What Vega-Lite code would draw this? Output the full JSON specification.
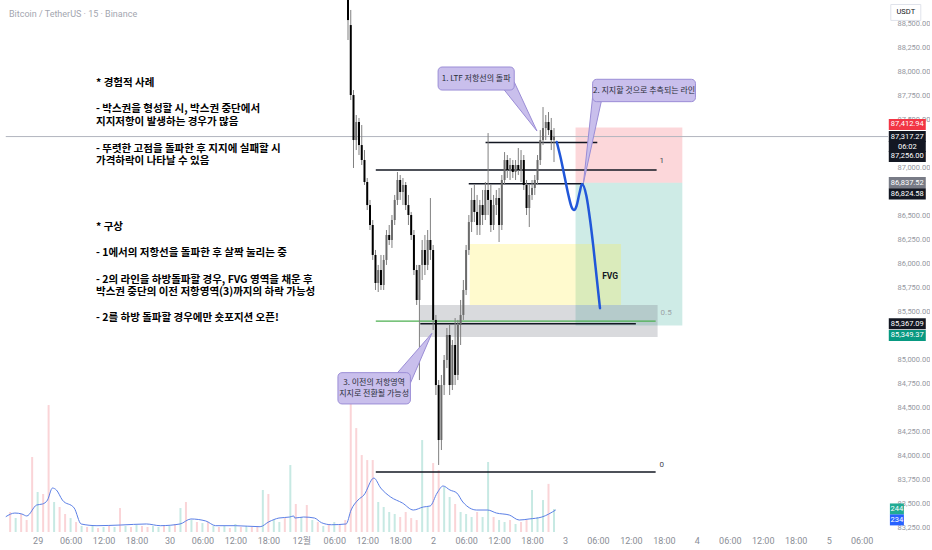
{
 "$schema": "https://vega.github.io/schema/vega-lite/v6.json",
 "width": 893,
 "height": 532,
 "padding": 0,
 "autosize": {"type": "pad"},
 "background": "#ffffff",
 "config": {"view": {"stroke": null}, "font": "Roboto, 'Noto Sans CJK KR'"},
 "datasets": {
  "candles": [
   {"t":56.5,"o":89573,"h":89782,"l":88323,"c":88531},
   {"t":57,"o":88479,"h":88636,"l":87698,"c":87750},
   {"t":57.5,"o":87750,"h":87802,"l":86990,"c":87281},
   {"t":58,"o":87281,"h":87542,"l":87177,"c":87469},
   {"t":58.5,"o":87469,"h":87511,"l":87125,"c":87229},
   {"t":59,"o":87229,"h":87438,"l":87021,"c":87073},
   {"t":59.5,"o":87073,"h":87177,"l":86813,"c":86844},
   {"t":60,"o":86844,"h":86886,"l":86552,"c":86604},
   {"t":60.5,"o":86604,"h":86657,"l":86344,"c":86396},
   {"t":61,"o":86396,"h":86448,"l":86032,"c":86084},
   {"t":61.5,"o":86084,"h":86136,"l":85719,"c":85792},
   {"t":62,"o":85792,"h":85980,"l":85698,"c":85927},
   {"t":62.5,"o":85927,"h":86084,"l":85719,"c":85771},
   {"t":63,"o":85771,"h":86084,"l":85719,"c":86032},
   {"t":63.5,"o":86032,"h":86344,"l":85980,"c":86292},
   {"t":64,"o":86292,"h":86396,"l":86188,"c":86240},
   {"t":64.5,"o":86240,"h":86500,"l":86157,"c":86448},
   {"t":65,"o":86448,"h":86709,"l":86396,"c":86657},
   {"t":65.5,"o":86657,"h":86948,"l":86604,"c":86865},
   {"t":66,"o":86865,"h":86917,"l":86657,"c":86740},
   {"t":66.5,"o":86740,"h":86886,"l":86604,"c":86813},
   {"t":67,"o":86813,"h":86844,"l":86552,"c":86604},
   {"t":67.5,"o":86604,"h":86709,"l":86396,"c":86500},
   {"t":68,"o":86500,"h":86532,"l":86240,"c":86292},
   {"t":68.5,"o":86292,"h":86344,"l":85875,"c":85927},
   {"t":69,"o":85927,"h":85980,"l":85563,"c":85615},
   {"t":69.5,"o":85615,"h":85667,"l":84781,"c":85980},
   {"t":70,"o":85980,"h":86240,"l":85823,"c":86136},
   {"t":70.5,"o":86136,"h":86292,"l":85875,"c":85980},
   {"t":71,"o":85980,"h":86344,"l":85927,"c":86240},
   {"t":71.5,"o":86240,"h":86677,"l":86032,"c":86136},
   {"t":72,"o":86136,"h":86188,"l":85302,"c":85407},
   {"t":72.5,"o":85407,"h":85459,"l":84625,"c":84729},
   {"t":73,"o":84729,"h":84781,"l":83896,"c":84156},
   {"t":73.5,"o":84156,"h":84834,"l":84052,"c":84729},
   {"t":74,"o":84729,"h":85042,"l":84625,"c":84990},
   {"t":74.5,"o":84990,"h":85323,"l":84906,"c":85250},
   {"t":75,"o":85250,"h":85355,"l":84625,"c":84729},
   {"t":75.5,"o":84729,"h":85198,"l":84677,"c":85146},
   {"t":76,"o":85146,"h":85427,"l":84729,"c":84834},
   {"t":76.5,"o":84834,"h":85407,"l":84781,"c":85355},
   {"t":77,"o":85355,"h":85615,"l":85146,"c":85459},
   {"t":77.5,"o":85459,"h":85823,"l":85407,"c":85719},
   {"t":78,"o":85719,"h":86188,"l":85667,"c":86136},
   {"t":78.5,"o":86136,"h":86500,"l":86084,"c":86427},
   {"t":79,"o":86427,"h":86782,"l":86323,"c":86657},
   {"t":79.5,"o":86657,"h":86813,"l":86427,"c":86532},
   {"t":80,"o":86532,"h":86709,"l":86292,"c":86396},
   {"t":80.5,"o":86396,"h":86657,"l":86292,"c":86604},
   {"t":81,"o":86604,"h":86761,"l":86396,"c":86500},
   {"t":81.5,"o":86500,"h":86844,"l":86448,"c":86761},
   {"t":82,"o":86761,"h":87354,"l":86500,"c":86657},
   {"t":82.5,"o":86657,"h":86813,"l":86323,"c":86396},
   {"t":83,"o":86396,"h":86709,"l":86344,"c":86604},
   {"t":83.5,"o":86604,"h":86761,"l":86500,"c":86677},
   {"t":84,"o":86677,"h":86782,"l":86219,"c":86396},
   {"t":84.5,"o":86396,"h":86917,"l":86344,"c":86865},
   {"t":85,"o":86865,"h":87156,"l":86813,"c":87073},
   {"t":85.5,"o":87073,"h":87125,"l":86886,"c":86969},
   {"t":86,"o":86969,"h":87094,"l":86865,"c":87021},
   {"t":86.5,"o":87021,"h":87073,"l":86886,"c":86948},
   {"t":87,"o":86948,"h":87073,"l":86865,"c":87021},
   {"t":87.5,"o":87021,"h":87198,"l":86917,"c":86969},
   {"t":88,"o":86969,"h":87177,"l":86844,"c":87073},
   {"t":88.5,"o":87073,"h":87125,"l":86761,"c":86813},
   {"t":89,"o":86813,"h":86865,"l":86500,"c":86573},
   {"t":89.5,"o":86573,"h":86813,"l":86375,"c":86709},
   {"t":90,"o":86709,"h":86865,"l":86657,"c":86782},
   {"t":90.5,"o":86782,"h":86917,"l":86709,"c":86865},
   {"t":91,"o":86865,"h":87125,"l":86813,"c":87073},
   {"t":91.5,"o":87073,"h":87385,"l":87021,"c":87281},
   {"t":92,"o":87281,"h":87625,"l":87229,"c":87406},
   {"t":92.5,"o":87406,"h":87542,"l":87281,"c":87469},
   {"t":93,"o":87469,"h":87573,"l":87333,"c":87385},
   {"t":93.5,"o":87385,"h":87511,"l":87177,"c":87281},
   {"t":94,"o":87281,"h":87406,"l":87052,"c":87317.27}
  ],
  "vol": [
   {"t":-5,"v":212,"d":"down"},{"t":-4,"v":148,"d":"up"},{"t":-3,"v":191,"d":"down"},{"t":-2,"v":127,"d":"down"},{"t":-1,"v":795,"d":"down"},
   {"t":0,"v":424,"d":"up"},{"t":1,"v":403,"d":"down"},{"t":2,"v":1346,"d":"down"},{"t":3,"v":318,"d":"up"},{"t":4,"v":265,"d":"down"},
   {"t":5,"v":191,"d":"down"},{"t":6,"v":148,"d":"up"},{"t":7,"v":106,"d":"down"},{"t":8,"v":64,"d":"up"},{"t":9,"v":53,"d":"down"},
   {"t":10,"v":64,"d":"up"},{"t":11,"v":42,"d":"down"},{"t":12,"v":53,"d":"up"},{"t":13,"v":64,"d":"down"},{"t":14,"v":53,"d":"up"},
   {"t":15,"v":254,"d":"down"},{"t":16,"v":64,"d":"up"},{"t":17,"v":53,"d":"down"},{"t":18,"v":74,"d":"up"},{"t":19,"v":64,"d":"down"},
   {"t":20,"v":53,"d":"down"},{"t":21,"v":64,"d":"up"},{"t":22,"v":53,"d":"up"},{"t":23,"v":74,"d":"down"},{"t":24,"v":64,"d":"up"},
   {"t":25,"v":85,"d":"down"},{"t":26,"v":254,"d":"up"},{"t":27,"v":318,"d":"down"},{"t":28,"v":127,"d":"up"},{"t":29,"v":106,"d":"down"},
   {"t":30,"v":95,"d":"up"},{"t":31,"v":106,"d":"down"},{"t":32,"v":64,"d":"up"},{"t":33,"v":53,"d":"down"},{"t":34,"v":64,"d":"up"},
   {"t":35,"v":42,"d":"down"},{"t":36,"v":85,"d":"up"},{"t":37,"v":53,"d":"down"},{"t":38,"v":64,"d":"up"},{"t":39,"v":53,"d":"down"},
   {"t":40,"v":64,"d":"down"},{"t":41,"v":445,"d":"up"},{"t":42,"v":403,"d":"down"},{"t":43,"v":127,"d":"up"},{"t":44,"v":106,"d":"up"},
   {"t":45,"v":148,"d":"down"},{"t":46,"v":710,"d":"up"},{"t":47,"v":297,"d":"down"},{"t":48,"v":159,"d":"up"},{"t":49,"v":286,"d":"down"},
   {"t":50,"v":127,"d":"up"},{"t":51,"v":106,"d":"down"},{"t":52,"v":64,"d":"up"},{"t":53,"v":85,"d":"down"},{"t":54,"v":106,"d":"up"},
   {"t":55,"v":85,"d":"down"},{"t":56,"v":127,"d":"down"},{"t":57,"v":1420,"d":"down"},{"t":58,"v":1102,"d":"down"},{"t":59,"v":816,"d":"down"},
   {"t":60,"v":763,"d":"down"},{"t":61,"v":763,"d":"down"},{"t":62,"v":318,"d":"up"},{"t":63,"v":265,"d":"up"},{"t":64,"v":212,"d":"up"},
   {"t":65,"v":191,"d":"up"},{"t":66,"v":159,"d":"down"},{"t":67,"v":212,"d":"down"},{"t":68,"v":148,"d":"down"},{"t":69,"v":127,"d":"down"},
   {"t":70,"v":975,"d":"up"},{"t":71,"v":265,"d":"up"},{"t":72,"v":731,"d":"down"},{"t":73,"v":657,"d":"down"},{"t":74,"v":477,"d":"up"},
   {"t":75,"v":371,"d":"up"},{"t":76,"v":297,"d":"down"},{"t":77,"v":212,"d":"up"},{"t":78,"v":191,"d":"up"},{"t":79,"v":159,"d":"up"},
   {"t":80,"v":212,"d":"down"},{"t":81,"v":159,"d":"up"},{"t":82,"v":742,"d":"up"},{"t":83,"v":159,"d":"down"},{"t":84,"v":127,"d":"up"},
   {"t":85,"v":106,"d":"up"},{"t":86,"v":127,"d":"down"},{"t":87,"v":85,"d":"up"},{"t":88,"v":106,"d":"down"},{"t":89,"v":127,"d":"down"},
   {"t":90,"v":445,"d":"up"},{"t":91,"v":159,"d":"up"},{"t":92,"v":339,"d":"up"},{"t":93,"v":510,"d":"down"},{"t":94,"v":244,"d":"up"}
  ],
  "volma": [
   {"t":-5.8,"v":162},{"t":-4.14,"v":201},{"t":-2.88,"v":191},{"t":-1.98,"v":170},{"t":-0.18,"v":286},{"t":0.9,"v":297},
   {"t":1.8,"v":339},{"t":2.7,"v":466},{"t":3.42,"v":445},{"t":4.5,"v":339},{"t":6.66,"v":254},{"t":7.92,"v":85},
   {"t":10.8,"v":67},{"t":15.12,"v":74},{"t":19.8,"v":85},{"t":22.32,"v":67},{"t":25.92,"v":85},{"t":27.9,"v":138},
   {"t":30.6,"v":117},{"t":32.4,"v":67},{"t":36,"v":67},{"t":40.5,"v":56},{"t":42.12,"v":109},{"t":43.92,"v":148},
   {"t":45.9,"v":159},{"t":46.62,"v":170},{"t":46.8,"v":148},{"t":48.42,"v":159},{"t":50.4,"v":148},{"t":51.66,"v":99},
   {"t":53.46,"v":77},{"t":56.16,"v":85},{"t":57.06,"v":233},{"t":58.32,"v":339},{"t":59.4,"v":392},{"t":61.2,"v":572},
   {"t":62.46,"v":466},{"t":64.26,"v":371},{"t":66.42,"v":307},{"t":68.4,"v":233},{"t":70.2,"v":265},{"t":71.46,"v":276},
   {"t":72.72,"v":413},{"t":73.8,"v":488},{"t":75.06,"v":445},{"t":76.32,"v":413},{"t":77.4,"v":318},{"t":79.92,"v":233},
   {"t":81.9,"v":233},{"t":83.52,"v":201},{"t":85.86,"v":180},{"t":87.66,"v":127},{"t":89.46,"v":138},{"t":91.8,"v":159},
   {"t":94.32,"v":234}
  ],
  "voltags": [
   {"t":156.42,"v":244,"label":"244"},
   {"t":156.42,"v":234,"label":"234"}
  ],
  "zones": [
   {"kind":"stop","t":97.92,"t2":117.36,"p":86837.52,"p2":87412.94},
   {"kind":"target","t":97.92,"t2":117.36,"p":85349.37,"p2":86837.52},
   {"kind":"fvg","t":78.66,"t2":106.2,"p":85563,"p2":86198},
   {"kind":"zone","t":69.48,"t2":112.86,"p":85230,"p2":85563}
  ],
  "lines": [
   {"kind":"last","t":-5.8,"t2":154.8,"p":87317.27},
   {"kind":"black","t":81.54,"t2":101.88,"p":87256},
   {"kind":"black","t":61.56,"t2":112.68,"p":86969},
   {"kind":"black","t":78.48,"t2":99.36,"p":86824.58},
   {"kind":"black","t":69.66,"t2":108.9,"p":85367.09},
   {"kind":"black","t":61.56,"t2":112.5,"p":83823},
   {"kind":"green","t":61.56,"t2":112.5,"p":85396}
  ],
  "proj": [
   {"t":94.5,"p":87261},{"t":95.22,"p":87094},{"t":95.94,"p":86896},{"t":96.66,"p":86698},{"t":97.2,"p":86584},
   {"t":97.65,"p":86552},{"t":98.1,"p":86594},{"t":98.64,"p":86729},{"t":99.09,"p":86823},{"t":99.9,"p":86698},
   {"t":100.57,"p":86448},{"t":101.16,"p":86170},{"t":101.75,"p":85858},{"t":102.37,"p":85529}
  ],
  "boxes": [
   {"t":72.9,"t2":86.76,"p":87802,"p2":88042},
   {"t":101.03,"t2":119.75,"p":87681,"p2":87914},
   {"t":54.67,"t2":67.86,"p":84532,"p2":84858}
  ],
  "pointers": [
   {"id":1,"ord":1,"t":84.96,"p":87802},{"id":1,"ord":2,"t":90.9,"p":87375},{"id":1,"ord":3,"t":86.76,"p":87886},
   {"id":2,"ord":1,"t":101.03,"p":87730},{"id":2,"ord":2,"t":99.36,"p":86834},{"id":2,"ord":3,"t":102.6,"p":87681},
   {"id":3,"ord":1,"t":65.52,"p":84858},{"id":3,"ord":2,"t":71.77,"p":85268},{"id":3,"ord":3,"t":67.86,"p":84750}
  ],
  "calltext": [
   {"t":79.83,"p":87917,"label":"1. LTF 저항선의 돌파"},
   {"t":110.39,"p":87797,"label":"2. 지지할 것으로 추측되는 라인"},
   {"t":61.25,"p":84750,"label":"3. 이전의 저항영역"},
   {"t":61.25,"p":84636,"label":"지지로 전환될 가능성"}
  ],
  "notes": [
   {"t":10.62,"p":87879,"label":"* 경험적 사례"},
   {"t":10.62,"p":87606,"label":"- 박스권을 형성할 시, 박스권 중단에서"},
   {"t":10.62,"p":87472,"label":"지지저항이 발생하는 경우가 많음"},
   {"t":10.62,"p":87190,"label":"- 뚜렷한 고점을 돌파한 후 지지에 실패할 시"},
   {"t":10.62,"p":87061,"label":"가격하락이 나타날 수 있음"},
   {"t":10.62,"p":86372,"label":"* 구상"},
   {"t":10.62,"p":86108,"label":"- 1에서의 저항선을 돌파한 후 살짝 눌리는 중"},
   {"t":10.62,"p":85822,"label":"- 2의 라인을 하방돌파할 경우, FVG 영역을 채운 후"},
   {"t":10.62,"p":85695,"label":"박스권 중단의 이전 저항영역(3)까지의 하락 가능성"},
   {"t":10.62,"p":85424,"label":"- 2를 하방 돌파할 경우에만 숏포지션 오픈!"}
  ],
  "fibs": [
   {"t":113.2,"p":87063,"label":"1","kind":"fib"},
   {"t":113.2,"p":83896,"label":"0","kind":"fib"},
   {"t":113.4,"p":85480,"label":"0.5","kind":"mid"}
  ],
  "fvgtext": [{"t":104.22,"p":85865,"label":"FVG"}],
  "header": [{"t":-5.22,"p":88594,"label":"Bitcoin / TetherUS · 15 · Binance"}],
  "unit": [{"t":158.04,"p":88610,"label":"USDT"}],
  "tags": [
   {"label":"87,412.94","t":158.31,"p":87412.94,"kind":"stop"},
   {"label":"87,317.27","t":158.31,"p":87317.27,"kind":"last"},
   {"label":"06:02","t":158.31,"p":87317.27,"kind":"last"},
   {"label":"87,256.00","t":158.31,"p":87256,"kind":"line"},
   {"label":"86,837.52","t":158.31,"p":86837.52,"kind":"entry"},
   {"label":"86,824.58","t":158.31,"p":86824.58,"kind":"line"},
   {"label":"85,367.09","t":158.31,"p":85367.09,"kind":"line"},
   {"label":"85,349.37","t":158.31,"p":85349.37,"kind":"target"}
  ]
 },
 "encoding": {
  "x": {
   "field": "t", "type": "quantitative",
   "scale": {"domain": [-5.94, 154.8], "nice": false, "zero": false},
   "axis": {
    "values": [0,6,12,18,24,30,36,42,48,54,60,66,72,78,84,90,96,102,108,114,120,126,132,138,144,150],
    "labelExpr": "datum.value % 24 == 0 ? (datum.value == 0 ? '29' : datum.value == 24 ? '30' : datum.value == 48 ? '12월' : format(datum.value / 24 - 1, 'd')) : format(datum.value % 24, '02d') + ':00'",
    "grid": false, "ticks": false, "domain": false, "title": null,
    "labelColor": "#8a8d96", "labelFontSize": 9, "labelPadding": 4,
    "labelFlush": false, "labelOverlap": false
   }
  }
 },
 "resolve": {"scale": {"y": "independent", "color": "independent", "size": "independent"}},
 "layer": [
  {
   "encoding": {"y": {"field": "v", "type": "quantitative", "stack": null, "scale": {"domain": [0, 5640], "nice": false, "zero": false}, "axis": null}},
   "resolve": {"scale": {"color": "independent"}},
   "layer": [
    {"data": {"name": "vol"}, "mark": {"type": "bar", "orient": "vertical", "width": 2, "opacity": 0.38},
     "encoding": {"color": {"field": "d", "type": "nominal", "scale": {"domain": ["down", "up"], "range": ["#f28d96", "#6cc5b6"]}, "legend": null}}},
    {"data": {"name": "volma"}, "mark": {"type": "line", "color": "#5b7fe6", "strokeWidth": 1, "interpolate": "monotone"}},
    {"data": {"name": "voltags"}, "transform": [{"filter": {"field": "label", "equal": "244"}}],
     "layer": [
      {"mark": {"type": "point", "shape": "M-1,-0.79H1V0.79H-1Z", "filled": true, "opacity": 1, "size": 196, "strokeWidth": 0, "color": "#22ab94"}},
      {"mark": {"type": "text", "color": "#ffffff", "fontSize": 7.5, "align": "center", "baseline": "middle"}, "encoding": {"text": {"field": "label"}}}
     ]},
    {"data": {"name": "voltags"}, "transform": [{"filter": {"field": "label", "equal": "234"}}],
     "layer": [
      {"mark": {"type": "point", "shape": "M-1,0.64H1V2.21H-1Z", "filled": true, "opacity": 1, "size": 196, "strokeWidth": 0, "color": "#2962ff"}},
      {"mark": {"type": "text", "color": "#ffffff", "fontSize": 7.5, "align": "center", "baseline": "middle", "dy": 10}, "encoding": {"text": {"field": "label"}}}
     ]}
   ]
  },
  {
   "encoding": {"y": {"field": "p", "type": "quantitative", "scale": {"domain": [83198, 88740], "nice": false, "zero": false},
     "axis": {"orient": "right", "values": [83250,83500,83750,84000,84250,84500,84750,85000,85500,85750,86000,86250,86500,87000,87500,87750,88000,88250,88500],
      "format": ",.2f", "labelAlign": "left", "labelPadding": 4, "ticks": false, "domain": false, "grid": false, "title": null,
      "labelColor": "#9598a1", "labelFontSize": 7.5, "labelOverlap": false, "labelFlush": false}}},
   "resolve": {"scale": {"color": "independent", "size": "independent"}},
   "layer": [
    {"data": {"name": "zones"}, "mark": {"type": "rect"},
     "encoding": {"x2": {"field": "t2"}, "y2": {"field": "p2"},
      "color": {"field": "kind", "type": "nominal", "scale": {"domain": ["stop", "target", "fvg", "zone"], "range": ["rgba(242,54,69,0.2)", "rgba(8,153,129,0.2)", "rgba(255,235,59,0.25)", "rgba(120,123,134,0.28)"]}, "legend": null}}},
    {"data": {"name": "lines"}, "mark": {"type": "rule"},
     "encoding": {"x2": {"field": "t2"},
      "color": {"field": "kind", "type": "nominal", "scale": {"domain": ["black", "green", "last"], "range": ["#131722", "#4caf50", "#b2b5be"]}, "legend": null},
      "size": {"field": "kind", "type": "nominal", "scale": {"domain": ["black", "green", "last"], "range": [1.5, 1, 1]}, "legend": null}}},
    {"data": {"name": "candles"}, "mark": {"type": "rule", "color": "#808080", "strokeWidth": 1, "clip": true},
     "encoding": {"y": {"field": "l", "type": "quantitative", "scale": {"domain": [83198, 88740], "nice": false, "zero": false},
       "axis": {"orient": "right", "values": [83250,83500,83750,84000,84250,84500,84750,85000,85500,85750,86000,86250,86500,87000,87500,87750,88000,88250,88500],
        "format": ",.2f", "labelAlign": "left", "labelPadding": 4, "ticks": false, "domain": false, "grid": false, "title": null,
        "labelColor": "#9598a1", "labelFontSize": 7.5, "labelOverlap": false, "labelFlush": false}}, "y2": {"field": "h"}}},
    {"data": {"name": "candles"}, "mark": {"type": "bar", "orient": "vertical", "width": 2, "clip": true},
     "encoding": {"y": {"field": "o", "type": "quantitative", "scale": {"domain": [83198, 88740], "nice": false, "zero": false},
       "axis": {"orient": "right", "values": [83250,83500,83750,84000,84250,84500,84750,85000,85500,85750,86000,86250,86500,87000,87500,87750,88000,88250,88500],
        "format": ",.2f", "labelAlign": "left", "labelPadding": 4, "ticks": false, "domain": false, "grid": false, "title": null,
        "labelColor": "#9598a1", "labelFontSize": 7.5, "labelOverlap": false, "labelFlush": false}}, "y2": {"field": "c"},
      "color": {"condition": {"test": "datum.c >= datum.o", "value": "#6b6b6b"}, "value": "#000000"}}},
    {"data": {"name": "proj"}, "mark": {"type": "line", "color": "#2157d9", "strokeWidth": 2.5, "interpolate": "monotone", "strokeCap": "round"}},
    {"data": {"name": "pointers"}, "mark": {"type": "line", "fill": "#c9bfec", "stroke": "#9b8dd6", "strokeWidth": 1, "interpolate": "linear-closed"},
     "encoding": {"detail": {"field": "id"}, "order": {"field": "ord"}}},
    {"data": {"name": "boxes"}, "mark": {"type": "rect", "fill": "#c9bfec", "stroke": "#9b8dd6", "strokeWidth": 1, "cornerRadius": 4},
     "encoding": {"x2": {"field": "t2"}, "y2": {"field": "p2"}}},
    {"data": {"name": "calltext"}, "mark": {"type": "text", "font": "Noto Sans CJK KR", "fontSize": 8, "color": "#2a2e39", "align": "center", "baseline": "middle"},
     "encoding": {"text": {"field": "label"}}},
    {"data": {"name": "notes"}, "mark": {"type": "text", "font": "Noto Sans CJK KR", "fontSize": 10.5, "fontWeight": "bold", "color": "#000000", "align": "left", "baseline": "middle"},
     "encoding": {"text": {"field": "label"}}},
    {"data": {"name": "fibs"}, "mark": {"type": "text", "fontSize": 8, "align": "left", "baseline": "middle"},
     "encoding": {"text": {"field": "label"}, "color": {"field": "kind", "type": "nominal", "scale": {"domain": ["fib", "mid"], "range": ["#434651", "#9ca3a6"]}, "legend": null}}},
    {"data": {"name": "fvgtext"}, "mark": {"type": "text", "fontSize": 8.5, "fontWeight": "bold", "color": "#131722", "align": "center", "baseline": "middle"},
     "encoding": {"text": {"field": "label"}}},
    {"data": {"name": "header"}, "mark": {"type": "text", "fontSize": 9, "color": "#a3a6af", "align": "left", "baseline": "middle"},
     "encoding": {"text": {"field": "label"}}},
    {"data": {"name": "unit"},
     "layer": [
      {"mark": {"type": "point", "shape": "M-1,-0.53H1V0.53H-1Z", "filled": true, "opacity": 1, "size": 900, "fill": "#ffffff", "stroke": "#e0e3eb", "strokeWidth": 1}},
      {"mark": {"type": "text", "fontSize": 7.5, "color": "#131722", "align": "center", "baseline": "middle"}, "encoding": {"text": {"field": "label"}}}
     ]},
    {"data": {"name": "tags"}, "transform": [{"filter": {"field": "label", "oneOf": ["87,412.94"]}}],
     "layer": [
      {"mark": {"type": "point", "shape": "M-1,-0.46H1V0.14H-1Z", "filled": true, "opacity": 1, "size": 1369, "strokeWidth": 0, "color": "#f23645"}},
      {"mark": {"type": "text", "color": "#ffffff", "fontSize": 7.5, "align": "center", "baseline": "middle", "dy": -3}, "encoding": {"text": {"field": "label"}}}
     ]},
    {"data": {"name": "tags"}, "transform": [{"filter": {"field": "label", "oneOf": ["87,317.27", "86,837.52", "85,367.09"]}}],
     "layer": [
      {"mark": {"type": "point", "shape": "M-1,-0.3H1V0.3H-1Z", "filled": true, "opacity": 1, "size": 1369, "strokeWidth": 0},
       "encoding": {"color": {"field": "kind", "type": "nominal", "scale": {"domain": ["stop", "last", "entry", "line", "target"], "range": ["#f23645", "#131722", "#787b86", "#131722", "#089981"]}, "legend": null}}},
      {"mark": {"type": "text", "color": "#ffffff", "fontSize": 7.5, "align": "center", "baseline": "middle"}, "encoding": {"text": {"field": "label"}}}
     ]},
    {"data": {"name": "tags"}, "transform": [{"filter": {"field": "label", "oneOf": ["06:02", "86,824.58", "85,349.37"]}}],
     "layer": [
      {"mark": {"type": "point", "shape": "M-1,0.24H1V0.84H-1Z", "filled": true, "opacity": 1, "size": 1369, "strokeWidth": 0},
       "encoding": {"color": {"field": "kind", "type": "nominal", "scale": {"domain": ["stop", "last", "entry", "line", "target"], "range": ["#f23645", "#131722", "#787b86", "#131722", "#089981"]}, "legend": null}}},
      {"mark": {"type": "text", "color": "#ffffff", "fontSize": 7.5, "align": "center", "baseline": "middle", "dy": 10}, "encoding": {"text": {"field": "label"}}}
     ]},
    {"data": {"name": "tags"}, "transform": [{"filter": {"field": "label", "oneOf": ["87,256.00"]}}],
     "layer": [
      {"mark": {"type": "point", "shape": "M-1,0.46H1V1.05H-1Z", "filled": true, "opacity": 1, "size": 1369, "strokeWidth": 0, "color": "#131722"}},
      {"mark": {"type": "text", "color": "#ffffff", "fontSize": 7.5, "align": "center", "baseline": "middle", "dy": 14}, "encoding": {"text": {"field": "label"}}}
     ]}
   ]
  }
 ]
}
